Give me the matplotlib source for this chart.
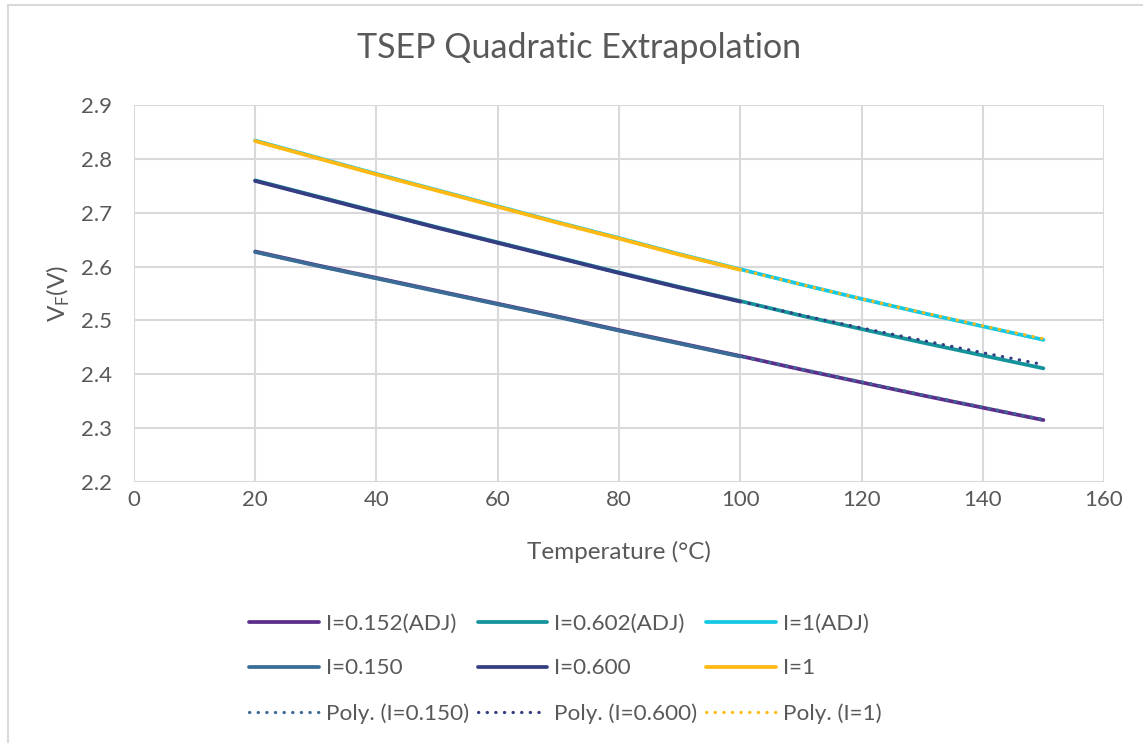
import matplotlib.pyplot as plt
from matplotlib.lines import Line2D

plt.rcParams['font.family'] = ['Lato', 'DejaVu Sans']

# temperature points (°C)
temp_meas = [20, 30, 40, 50, 60, 70, 80, 90, 100]
temp_full = [20, 30, 40, 50, 60, 70, 80, 90, 100, 110, 120, 130, 140, 150]

# measured forward voltage (V)
vf_150 = [2.627, 2.602, 2.578, 2.554, 2.530, 2.506, 2.481, 2.457, 2.433]
vf_600 = [2.759, 2.730, 2.701, 2.672, 2.644, 2.616, 2.588, 2.561, 2.535]
vf_1 = [2.833, 2.802, 2.771, 2.741, 2.711, 2.681, 2.652, 2.622, 2.594]

# adjusted-current curves
adj_152 = [2.628, 2.603, 2.579, 2.555, 2.531, 2.507, 2.482, 2.458, 2.434,
           2.409, 2.385, 2.361, 2.338, 2.315]
adj_602 = [2.760, 2.731, 2.702, 2.673, 2.645, 2.617, 2.589, 2.562, 2.536,
           2.509, 2.484, 2.459, 2.435, 2.411]
adj_1 = [2.834, 2.803, 2.772, 2.742, 2.712, 2.682, 2.653, 2.623, 2.595,
         2.567, 2.540, 2.514, 2.489, 2.464]

# quadratic trendlines
poly_150 = [2.627, 2.602, 2.578, 2.554, 2.530, 2.506, 2.481, 2.457, 2.433,
            2.410, 2.386, 2.362, 2.339, 2.316]
poly_600 = [2.759, 2.730, 2.701, 2.672, 2.644, 2.616, 2.588, 2.561, 2.535,
            2.510, 2.486, 2.463, 2.440, 2.418]
poly_1 = [2.833, 2.802, 2.771, 2.741, 2.711, 2.681, 2.652, 2.622, 2.594,
          2.567, 2.540, 2.515, 2.490, 2.466]

c_purple = '#5C2D8A'
c_teal = '#14939B'
c_cyan = '#14C8E4'
c_steel = '#3B6C96'
c_navy = '#353E82'
c_yellow = '#FFB914'
c_text = '#595959'

fig = plt.figure(figsize=(11.43, 7.43), dpi=100)
ax = fig.add_axes([0.1172, 0.3513, 0.8487, 0.5074])

lw = 2.7
dots = (0, (0.1, 2.6))
h_a152, = ax.plot(temp_full, adj_152, color=c_purple, lw=lw, label='I=0.152(ADJ)', solid_capstyle='round')
h_a602, = ax.plot(temp_full, adj_602, color=c_teal, lw=lw, label='I=0.602(ADJ)', solid_capstyle='round')
h_a1, = ax.plot(temp_full, adj_1, color=c_cyan, lw=lw, label='I=1(ADJ)', solid_capstyle='round')
h_150, = ax.plot(temp_meas, vf_150, color=c_steel, lw=lw, label='I=0.150', solid_capstyle='round')
h_600, = ax.plot(temp_meas, vf_600, color=c_navy, lw=lw, label='I=0.600', solid_capstyle='round')
h_1, = ax.plot(temp_meas, vf_1, color=c_yellow, lw=lw, label='I=1', solid_capstyle='round')
h_p150, = ax.plot(temp_full, poly_150, color=c_steel, lw=2.3, ls=dots,
                  dash_capstyle='round', label='Poly. (I=0.150)')
h_p600, = ax.plot(temp_full, poly_600, color=c_navy, lw=2.3, ls=dots,
                  dash_capstyle='round', label='Poly. (I=0.600)')
h_p1, = ax.plot(temp_full, poly_1, color=c_yellow, lw=2.3, ls=dots,
                dash_capstyle='round', label='Poly. (I=1)')

ax.set_xlim(0, 160)
ax.set_ylim(2.2, 2.9)
ax.set_xticks(range(0, 161, 20))
ax.set_yticks([2.2, 2.3, 2.4, 2.5, 2.6, 2.7, 2.8, 2.9])
ax.set_yticklabels(['2.2', '2.3', '2.4', '2.5', '2.6', '2.7', '2.8', '2.9'])
ax.grid(True, color='#D9D9D9', lw=1.5)
ax.set_axisbelow(True)
for s in ax.spines.values():
    s.set_visible(False)
ax.tick_params(length=0, labelsize=16, colors=c_text)
ax.tick_params(axis='y', pad=16)
ax.tick_params(axis='x', pad=6)

fig.text(0.5066, 0.9354, 'TSEP Quadratic Extrapolation', fontsize=24.5, color=c_text,
         ha='center', va='center')
ax.set_xlabel('Temperature (°C)', fontsize=17.5, color=c_text, labelpad=22)
fig.text(58 / 1143, 0.605, 'V$_\\mathregular{F}$(V)', fontsize=17.5, color=c_text,
         rotation=90, rotation_mode='anchor', ha='center', va='center')

handles = [h_a152, h_150, h_p150, h_a602, h_600, h_p600, h_a1, h_1, h_p1]
fig.legend(handles=handles, ncol=3, loc='center', bbox_to_anchor=(0.4945, 0.100),
           frameon=False, fontsize=16.2, labelcolor=c_text, handlelength=3.1,
           handletextpad=0.3, columnspacing=0.4, labelspacing=1.1)

# chart frame (top and left edges visible)
fig.add_artist(Line2D([0.0068, 0.0068], [0, 0.9933], color='#D9D9D9', lw=1.5))
fig.add_artist(Line2D([0.0068, 1.0], [0.9933, 0.9933], color='#D9D9D9', lw=1.5))

fig.savefig('out.png', dpi=100, facecolor='white')
